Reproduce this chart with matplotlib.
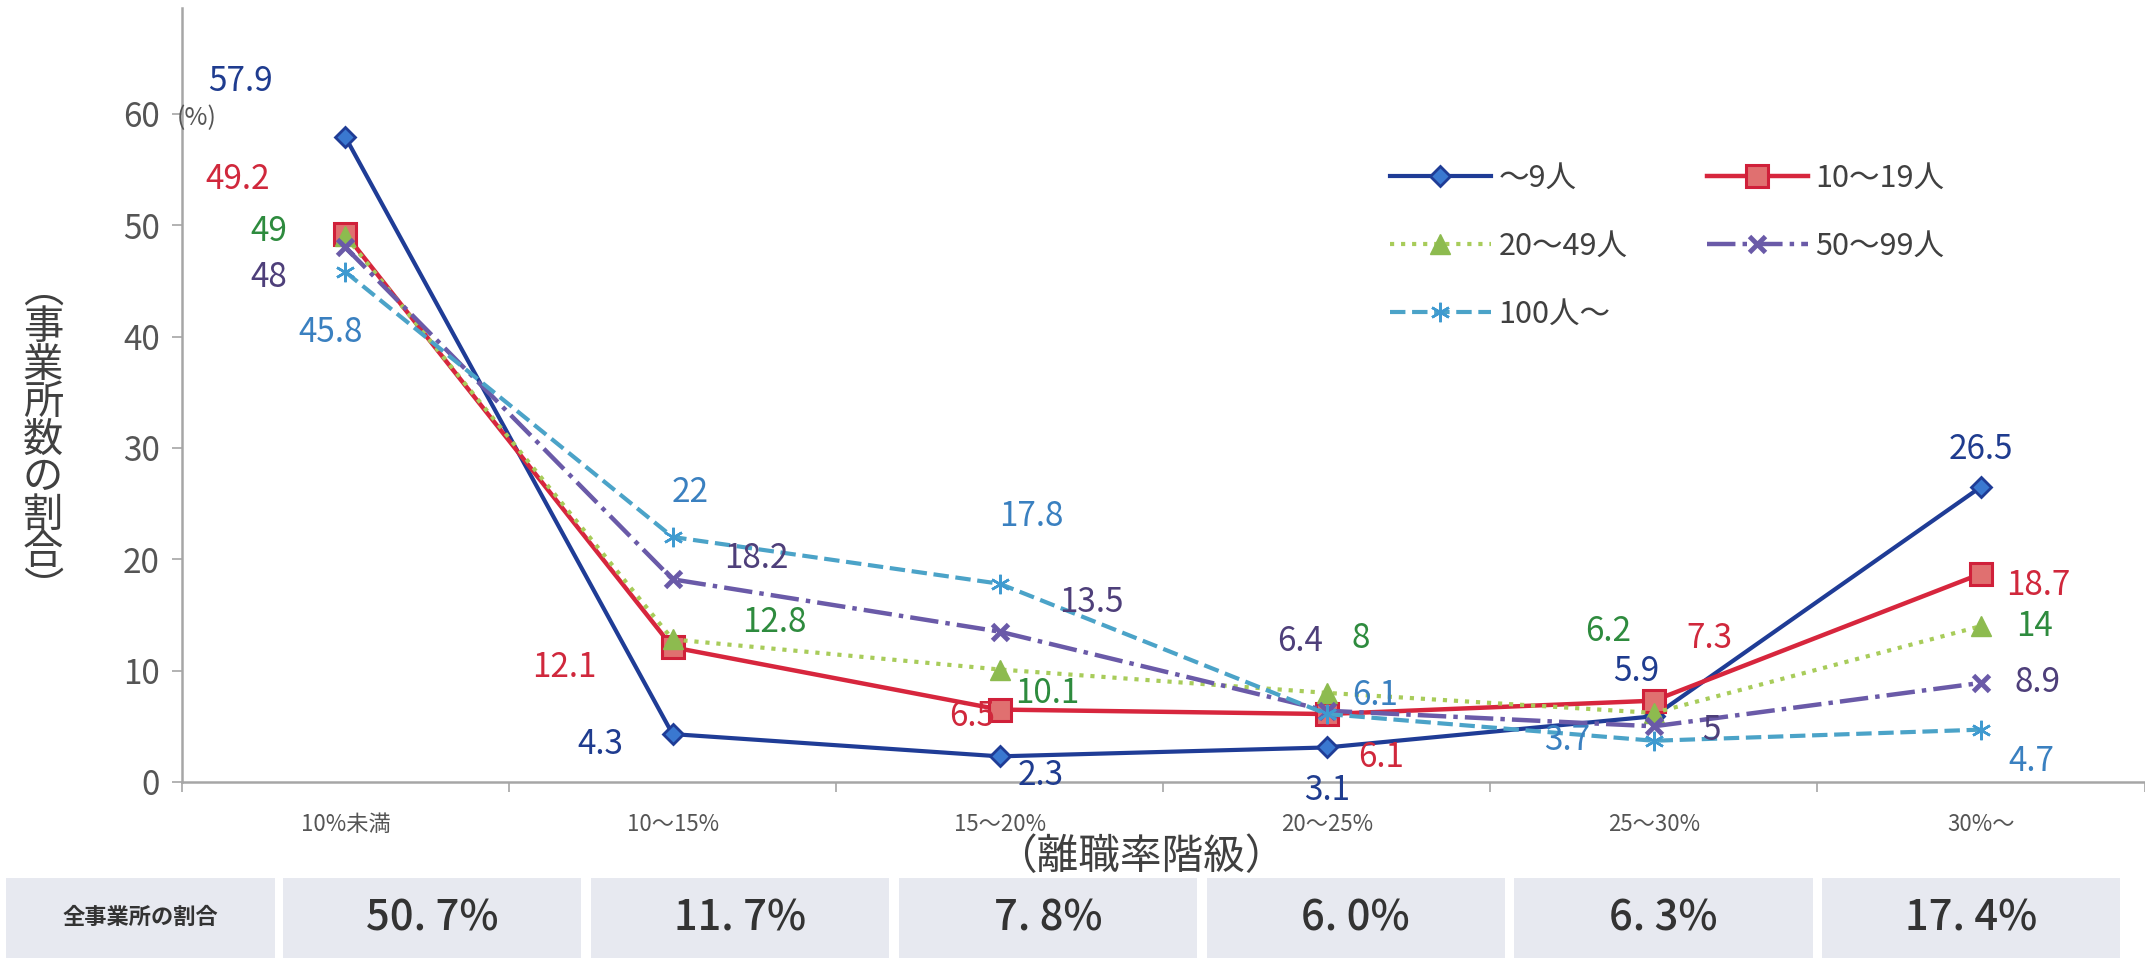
import matplotlib
matplotlib.use("Agg")
import matplotlib.pyplot as plt
from matplotlib.patches import Rectangle

plt.rcParams['font.family'] = ['Noto Sans CJK JP', 'DejaVu Sans']

categories = ["10%未満", "10～15%", "15～20%", "20～25%", "25～30%", "30%～"]
names = ["～9人", "10～19人", "20～49人", "50～99人", "100人～"]
s_9 = [57.9, 4.3, 2.3, 3.1, 5.9, 26.5]
s_19 = [49.2, 12.1, 6.5, 6.1, 7.3, 18.7]
s_49 = [49, 12.8, 10.1, 8, 6.2, 14]
s_99 = [48, 18.2, 13.5, 6.4, 5, 8.9]
s_100 = [45.8, 22, 17.8, 6.1, 3.7, 4.7]
share_label = "全事業所の割合"
share_all = ["50. 7%", "11. 7%", "7. 8%", "6. 0%", "6. 3%", "17. 4%"]

# label nudges (category units, value units)
off_9 = [(-0.32, 5.0), (-0.22, -0.9), (0.126, -1.7), (0, -3.9), (-0.055, 4.0), (0, 3.4)]
off_19 = [(-0.33, 4.9), (-0.33, -1.85), (-0.084, -0.6), (0.166, -3.9), (0.17, 5.6), (0.175, -1.05)]
off_49 = [(-0.234, 0.4), (0.31, 1.5), (0.146, -2.2), (0.105, 4.9), (-0.14, 7.3), (0.163, 0)]
off_99 = [(-0.234, -2.7), (0.255, 1.85), (0.28, 2.6), (-0.083, 6.2), (0.176, -0.35), (0.172, 0)]
off_100 = [(-0.046, -5.4), (0.054, 4.0), (0.096, 6.0), (0.148, 1.7), (-0.264, 0), (0.153, -2.84)]

styles = [
    dict(color="#1F3C96", ls="-", lw=3.0, marker="D", ms=10, mfc="#3A78D0", mec="#1F3C96", mew=2),
    dict(color="#D7263D", ls="-", lw=3.2, marker="s", ms=16, mfc="#E07070", mec="#D0203A", mew=2.2),
    dict(color="#A8CC5A", ls=":", lw=3.0, marker="^", ms=15, mfc="#8DBB4F", mec="#8DBB4F", mew=1),
    dict(color="#6A5AA8", ls="-.", lw=3.2, marker="x", ms=12, mec="#6A5AA8", mew=3.5),
    dict(color="#4BA3C8", ls="--", lw=3.0, marker=(6, 2, 0), ms=14, mec="#3F9AD0", mew=1.8),
]
label_colors = ["#1F3C8F", "#D0283C", "#2E8B3E", "#4E3F7A", "#3A80C0"]

fig = plt.figure(figsize=(21.45, 9.59), dpi=100)
ax = fig.add_axes([0.0848, 0.1846, 0.915, 0.807])

x = list(range(len(categories)))
handles = []
for vals, offs, st, lc, nm in zip([s_9, s_19, s_49, s_99, s_100],
                                  [off_9, off_19, off_49, off_99, off_100],
                                  styles, label_colors, names):
    (h,) = ax.plot(x, vals, label=nm, **st)
    handles.append(h)
    for i, (v, (dx, dy)) in enumerate(zip(vals, offs)):
        ax.text(i + dx, v + dy, f"{v:g}", color=lc, fontsize=24,
                ha="center", va="center")

ax.set_xlim(-0.5, 5.5)
ax.set_ylim(0, 69.5)
ax.set_yticks(range(0, 61, 10))
ax.tick_params(axis="y", labelsize=24, labelcolor="#555555", length=7,
               width=1.2, color="#A6A6A6", pad=9)
ax.set_xticks(x)
ax.set_xticklabels(categories)
ax.set_xticks([i - 0.5 for i in range(len(categories) + 1)], minor=True)
ax.tick_params(axis="x", which="major", length=0, labelsize=16,
               labelcolor="#555555", pad=22)
ax.tick_params(axis="x", which="minor", length=7, width=1.2, color="#A6A6A6")
for s in ("top", "right"):
    ax.spines[s].set_visible(False)
for s in ("left", "bottom"):
    ax.spines[s].set_color("#A6A6A6")
    ax.spines[s].set_linewidth(1.8)

ax.text(-0.515, 59.6, "(%)", fontsize=18, color="#555555", ha="left", va="center")

order = [0, 2, 4, 1, 3]
ax.legend([handles[k] for k in order], [names[k] for k in order], ncol=2,
          loc="upper left", bbox_to_anchor=(0.648, 0.83), bbox_transform=fig.transFigure,
          frameon=False, fontsize=22, handlelength=3.3, labelspacing=1.2,
          columnspacing=2.6, handletextpad=0.25, borderpad=0, borderaxespad=0,
          labelcolor="#404040")

# vertical y label
ylab = "︵事業所数の割合︶"
for k, ch in enumerate(ylab):
    fig.text(0.02, 1 - (290 + k * 37.5) / 959, ch, fontsize=29, color="#404040",
             ha="center", va="center")

fig.text(0.532, 0.106, "（離職率階級）", fontsize=30, color="#404040",
         ha="center", va="center")

# table row under the chart
cell_color = "#E7E9F0"
fig.add_artist(Rectangle((0.003, 0.001), 0.125, 0.0835, transform=fig.transFigure,
                         facecolor=cell_color, edgecolor="none"))
fig.text(0.003 + 0.0625, 0.043, share_label, fontsize=16, fontweight="bold",
         color="#333333", ha="center", va="center")
for i, txt in enumerate(share_all):
    x0 = 0.132 + i * 0.1435
    fig.add_artist(Rectangle((x0, 0.001), 0.139, 0.0835, transform=fig.transFigure,
                             facecolor=cell_color, edgecolor="none"))
    fig.text(x0 + 0.0695, 0.043, txt, fontsize=30, fontweight="medium",
             color="#333333", ha="center", va="center")

fig.savefig("out.png", dpi=100)
